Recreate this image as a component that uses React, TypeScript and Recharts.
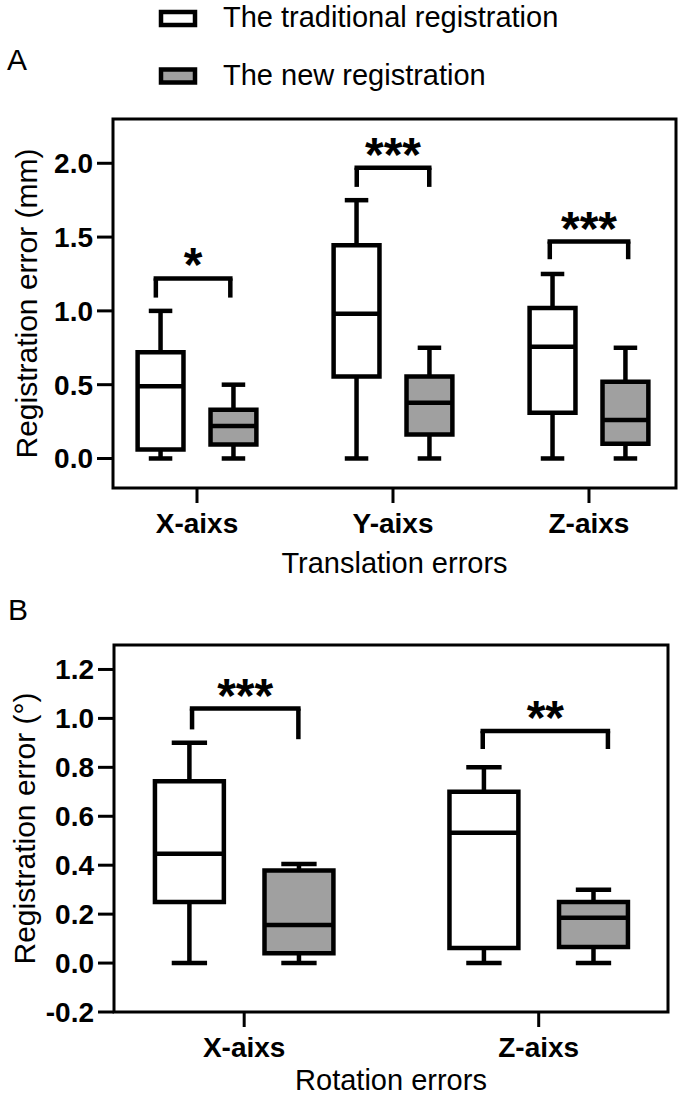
import React from "react";
import {
  ComposedChart,
  ReferenceArea,
  ReferenceLine,
  Scatter,
  XAxis,
  YAxis
} from "recharts";

const FONT = "'Liberation Sans', Arial, Helvetica, sans-serif";
const INK = "#000000";
const NEW_FILL = "#a0a0a0";

// box geometry in axis units (one unit = distance between two categories)
const BOX_OFFSET = 0.186;
const BOX_HALF = 0.117;
const CAP_HALF = 0.06;

type BoxStats = { min: number; q1: number; median: number; q3: number; max: number };
type Bracket = { from: number; to: number; top: number; leftEnd: number; rightEnd: number; mark: string };

// ---- panel A: translation errors (mm)
const translationAxes = ["X-aixs", "Y-aixs", "Z-aixs"];
const translationTraditional: BoxStats[] = [
  { min: 0, q1: 0.06, median: 0.49, q3: 0.72, max: 1.0 },
  { min: 0, q1: 0.555, median: 0.98, q3: 1.445, max: 1.75 },
  { min: 0, q1: 0.31, median: 0.757, q3: 1.02, max: 1.25 }
];
const translationNew: BoxStats[] = [
  { min: 0, q1: 0.095, median: 0.22, q3: 0.33, max: 0.5 },
  { min: 0, q1: 0.162, median: 0.378, q3: 0.555, max: 0.75 },
  { min: 0, q1: 0.1, median: 0.26, q3: 0.52, max: 0.75 }
];
const translationBrackets: Bracket[] = [
  { from: 0.79, to: 1.17, top: 1.22, leftEnd: 1.09, rightEnd: 1.09, mark: "*" },
  { from: 1.815, to: 2.185, top: 1.97, leftEnd: 1.84, rightEnd: 1.84, mark: "***" },
  { from: 2.8, to: 3.2, top: 1.47, leftEnd: 1.35, rightEnd: 1.35, mark: "***" }
];
const translationTicks = [0, 0.5, 1.0, 1.5, 2.0];
const translationYDomain = [-0.2, 2.3];
const translationXDomain = [0.5714, 3.444];

// ---- panel B: rotation errors (degrees)
const rotationAxes = ["X-aixs", "Z-aixs"];
const rotationTraditional: BoxStats[] = [
  { min: 0, q1: 0.25, median: 0.447, q3: 0.743, max: 0.9 },
  { min: 0, q1: 0.062, median: 0.533, q3: 0.7, max: 0.8 }
];
const rotationNew: BoxStats[] = [
  { min: 0, q1: 0.04, median: 0.156, q3: 0.378, max: 0.405 },
  { min: 0, q1: 0.066, median: 0.185, q3: 0.25, max: 0.3 }
];
const rotationBrackets: Bracket[] = [
  { from: 0.823, to: 1.184, top: 1.04, leftEnd: 0.955, rightEnd: 0.915, mark: "***" },
  { from: 1.81, to: 2.235, top: 0.948, leftEnd: 0.875, rightEnd: 0.875, mark: "**" }
];
const rotationTicks = [-0.2, 0, 0.2, 0.4, 0.6, 0.8, 1.0, 1.2];
const rotationYDomain = [-0.2, 1.3];
const rotationXDomain = [0.558, 2.439];

const legendItems = [
  { label: "The traditional registration", fill: "#ffffff" },
  { label: "The new registration", fill: NEW_FILL }
];

function renderBoxes(stats: BoxStats[], shift: number, fill: string, key: string) {
  return stats.flatMap((s, i) => {
    const c = i + 1 + shift;
    return [
      <ReferenceLine
        key={`${key}-wu-${i}`}
        segment={[{ x: c, y: s.q3 }, { x: c, y: s.max }]}
        stroke={INK}
        strokeWidth={4.5}
      />,
      <ReferenceLine
        key={`${key}-wl-${i}`}
        segment={[{ x: c, y: s.min }, { x: c, y: s.q1 }]}
        stroke={INK}
        strokeWidth={4.5}
      />,
      <ReferenceLine
        key={`${key}-cu-${i}`}
        segment={[{ x: c - CAP_HALF, y: s.max }, { x: c + CAP_HALF, y: s.max }]}
        stroke={INK}
        strokeWidth={4.5}
      />,
      <ReferenceLine
        key={`${key}-cl-${i}`}
        segment={[{ x: c - CAP_HALF, y: s.min }, { x: c + CAP_HALF, y: s.min }]}
        stroke={INK}
        strokeWidth={4.5}
      />,
      <ReferenceArea
        key={`${key}-box-${i}`}
        x1={c - BOX_HALF}
        x2={c + BOX_HALF}
        y1={s.q1}
        y2={s.q3}
        fill={fill}
        fillOpacity={1}
        stroke={INK}
        strokeWidth={4.5}
      />,
      <ReferenceLine
        key={`${key}-med-${i}`}
        segment={[{ x: c - BOX_HALF, y: s.median }, { x: c + BOX_HALF, y: s.median }]}
        stroke={INK}
        strokeWidth={4.5}
      />
    ];
  });
}

function renderBrackets(brackets: Bracket[], key: string) {
  return brackets.flatMap((b, i) => [
    <ReferenceLine
      key={`${key}-bl-${i}`}
      segment={[{ x: b.from, y: b.leftEnd }, { x: b.from, y: b.top }]}
      stroke={INK}
      strokeWidth={4.5}
    />,
    <ReferenceLine
      key={`${key}-br-${i}`}
      segment={[{ x: b.to, y: b.rightEnd }, { x: b.to, y: b.top }]}
      stroke={INK}
      strokeWidth={4.5}
    />,
    <ReferenceLine
      key={`${key}-bt-${i}`}
      segment={[{ x: b.from, y: b.top }, { x: b.to, y: b.top }]}
      stroke={INK}
      strokeWidth={4.5}
      strokeLinecap="square"
      label={{
        value: b.mark,
        position: "top",
        offset: -3,
        fill: INK,
        fontSize: 48,
        fontWeight: 700,
        fontFamily: FONT
      }}
    />
  ]);
}

function BoxPanel({
  width,
  height,
  margin,
  yAxisWidth,
  xAxisHeight,
  categories,
  traditional,
  fresh,
  brackets,
  yTicks,
  yDomain,
  xDomain,
  yTitle,
  yTitleOffset,
  xTitle,
  xTitleOffset
}: {
  width: number;
  height: number;
  margin: { top: number; right: number; bottom: number; left: number };
  yAxisWidth: number;
  xAxisHeight: number;
  categories: string[];
  traditional: BoxStats[];
  fresh: BoxStats[];
  brackets: Bracket[];
  yTicks: number[];
  yDomain: number[];
  xDomain: number[];
  yTitle: string;
  yTitleOffset: number;
  xTitle: string;
  xTitleOffset: number;
}) {
  const medians = traditional.map((s, i) => ({ x: i + 1, y: s.median }));
  const catTicks = categories.map((_, i) => i + 1);

  return (
    <ComposedChart width={width} height={height} margin={margin}>
      <XAxis
        type="number"
        dataKey="x"
        domain={xDomain}
        allowDataOverflow
        ticks={catTicks}
        interval={0}
        tickFormatter={(v: number) => categories[Math.round(v) - 1] ?? ""}
        axisLine={false}
        tickLine={{ stroke: INK, strokeWidth: 3 }}
        tickSize={15}
        tickMargin={10}
        height={xAxisHeight}
        tick={{ fill: INK, fontSize: 28, fontWeight: 700, fontFamily: FONT }}
        label={{
          value: xTitle,
          position: "insideBottom",
          offset: xTitleOffset,
          fill: INK,
          fontSize: 29,
          fontFamily: FONT
        }}
      />
      <YAxis
        type="number"
        dataKey="y"
        domain={yDomain}
        allowDataOverflow
        ticks={yTicks}
        interval={0}
        tickFormatter={(v: number) => v.toFixed(1)}
        axisLine={false}
        tickLine={{ stroke: INK, strokeWidth: 3 }}
        tickSize={16}
        tickMargin={4}
        width={yAxisWidth}
        tick={{ fill: INK, fontSize: 28, fontWeight: 700, fontFamily: FONT }}
        label={{
          value: yTitle,
          angle: -90,
          position: "insideLeft",
          offset: yTitleOffset,
          fill: INK,
          fontSize: 30,
          fontFamily: FONT,
          style: { textAnchor: "middle" }
        }}
      />
      <Scatter data={medians} fill="none" isAnimationActive={false} />
      <ReferenceArea
        x1={xDomain[0]}
        x2={xDomain[1]}
        y1={yDomain[0]}
        y2={yDomain[1]}
        fill="none"
        stroke={INK}
        strokeWidth={3}
      />
      {renderBoxes(traditional, -BOX_OFFSET, "#ffffff", "t")}
      {renderBoxes(fresh, BOX_OFFSET, NEW_FILL, "n")}
      {renderBrackets(brackets, "s")}
    </ComposedChart>
  );
}

export default function App() {
  return (
    <div
      style={{
        position: "absolute",
        left: 0,
        top: 0,
        width: 685,
        height: 1099,
        background: "#ffffff",
        overflow: "hidden",
        fontFamily: FONT
      }}
    >
      <svg width={685} height={100} style={{ position: "absolute", left: 0, top: 0 }}>
        {legendItems.map((item, i) => (
          <g key={item.label}>
            <rect
              x={161}
              y={12 + i * 57.5}
              width={34}
              height={13}
              fill={item.fill}
              stroke={INK}
              strokeWidth={4.5}
            />
            <text x={223} y={27 + i * 58} fontSize={29} fill={INK} fontFamily={FONT}>
              {item.label}
            </text>
          </g>
        ))}
        <text x={7} y={70} fontSize={30} fill={INK} fontFamily={FONT}>
          A
        </text>
      </svg>

      <div style={{ position: "absolute", left: 0, top: 100 }}>
        <BoxPanel
          width={685}
          height={500}
          margin={{ top: 19, right: 9, bottom: 27, left: 0 }}
          yAxisWidth={113}
          xAxisHeight={85}
          categories={translationAxes}
          traditional={translationTraditional}
          fresh={translationNew}
          brackets={translationBrackets}
          yTicks={translationTicks}
          yDomain={translationYDomain}
          xDomain={translationXDomain}
          yTitle="Registration error (mm)"
          yTitleOffset={26}
          xTitle="Translation errors"
          xTitleOffset={0}
        />
      </div>

      <svg width={685} height={40} style={{ position: "absolute", left: 0, top: 592 }}>
        <text x={8} y={28} fontSize={30} fill={INK} fontFamily={FONT}>
          B
        </text>
      </svg>

      <div style={{ position: "absolute", left: 0, top: 600 }}>
        <BoxPanel
          width={685}
          height={499}
          margin={{ top: 45, right: 17, bottom: 0, left: 0 }}
          yAxisWidth={114}
          xAxisHeight={87}
          categories={rotationAxes}
          traditional={rotationTraditional}
          fresh={rotationNew}
          brackets={rotationBrackets}
          yTicks={rotationTicks}
          yDomain={rotationYDomain}
          xDomain={rotationXDomain}
          yTitle="Registration error (°)"
          yTitleOffset={24}
          xTitle="Rotation errors"
          xTitleOffset={9}
        />
      </div>
    </div>
  );
}
